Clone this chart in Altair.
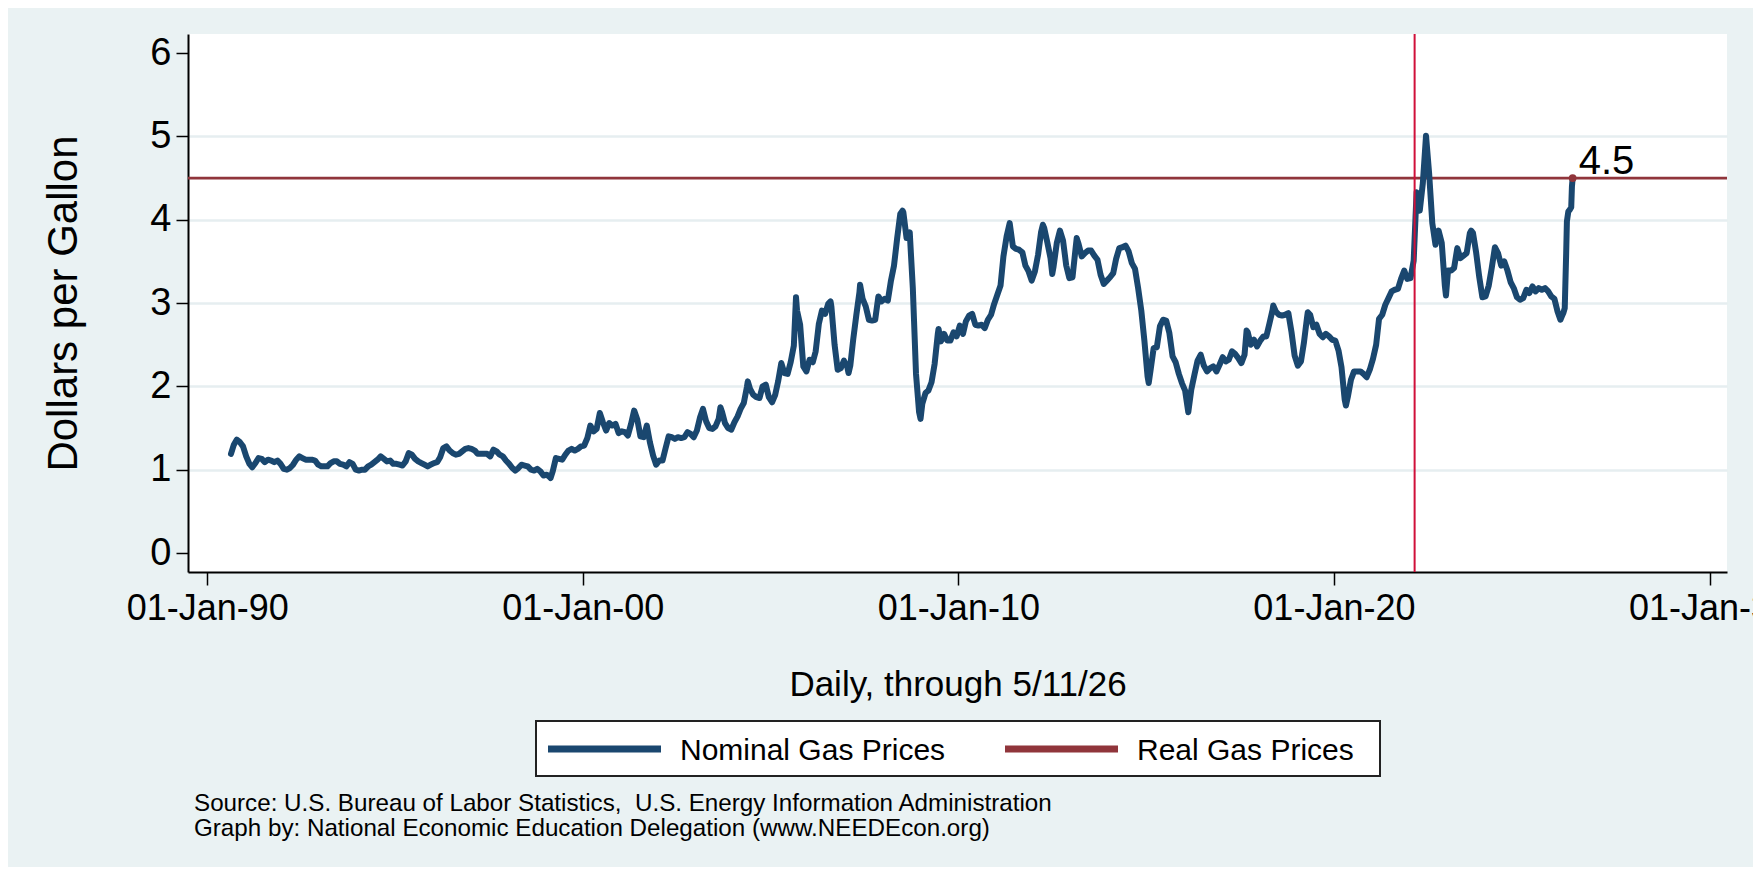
import altair as alt
import pandas as pd

FONT = "Liberation Sans"
NAVY = "#1A476F"
MAROON = "#90353B"
CRIMSON = "#D0103A"
BG = "#EAF2F3"

# ---- Nominal gas price, $/gallon ----
dates_1990 = ["1990-08-20", "1990-09-17", "1990-10-15", "1990-11-15", "1990-12-15"]
prices_1990 = [1.19, 1.30, 1.36, 1.33, 1.28]

# monthly values (mid-month), Jan..Dec
prices_1990s = [
    1.16, 1.07, 1.03, 1.08, 1.14, 1.13, 1.09, 1.12, 1.11, 1.09, 1.11, 1.07,  # 1991
    1.01, 1.00, 1.02, 1.06, 1.12, 1.16, 1.14, 1.12, 1.12, 1.12, 1.11, 1.06,  # 1992
    1.04, 1.04, 1.04, 1.08, 1.10, 1.10, 1.07, 1.06, 1.04, 1.09, 1.07, 1.00,  # 1993
    0.99, 1.00, 1.00, 1.04, 1.06, 1.09, 1.12, 1.16, 1.13, 1.10, 1.11, 1.07,  # 1994
    1.07, 1.06, 1.05, 1.10, 1.20, 1.18, 1.13, 1.10, 1.08, 1.06, 1.04, 1.06,  # 1995
    1.08, 1.09, 1.15, 1.26, 1.28, 1.23, 1.20, 1.18, 1.19, 1.22, 1.25, 1.26,  # 1996
    1.25, 1.23, 1.19, 1.19, 1.19, 1.19, 1.16, 1.24, 1.22, 1.18, 1.16, 1.11,  # 1997
    1.07, 1.02, 0.99, 1.02, 1.06, 1.05, 1.04, 1.00, 0.99, 1.01, 0.98, 0.93,  # 1998
    0.94, 0.91, 0.98, 1.14, 1.13, 1.12, 1.18, 1.23, 1.25, 1.23, 1.25, 1.28,  # 1999
]
prices_2000s = [
    1.29, 1.38, 1.53, 1.46, 1.49, 1.68, 1.57, 1.47, 1.56, 1.53, 1.55, 1.44,  # 2000
    1.46, 1.45, 1.41, 1.55, 1.71, 1.60, 1.40, 1.39, 1.53, 1.33, 1.17, 1.06,  # 2001
    1.11, 1.11, 1.25, 1.40, 1.39, 1.37, 1.39, 1.38, 1.39, 1.45, 1.43, 1.39,  # 2002
    1.47, 1.63, 1.73, 1.58, 1.50, 1.49, 1.52, 1.61, 1.70, 1.56, 1.50, 1.48,  # 2003
    1.57, 1.64, 1.73, 1.80, 1.99, 1.97, 1.90, 1.87, 1.86, 2.00, 2.02, 1.87,  # 2004
    1.81, 1.90, 2.06, 2.28, 2.16, 2.15, 2.29, 2.49, 2.91, 2.74, 2.24, 2.18,  # 2005
    2.32, 2.29, 2.42, 2.75, 2.91, 2.87, 2.99, 2.96, 2.50, 2.20, 2.22, 2.31,  # 2006
    2.24, 2.25, 2.56, 2.86, 3.13, 3.05, 2.96, 2.80, 2.79, 2.80, 3.08, 3.02,  # 2007
    3.05, 3.03, 3.26, 3.45, 3.77, 4.07, 4.09, 3.78, 3.85, 3.18, 2.15, 1.69,  # 2008
    1.79, 1.92, 1.95, 2.05, 2.27, 2.63, 2.54, 2.63, 2.55, 2.55, 2.65, 2.60,  # 2009
]
prices_2010s = [
    2.73, 2.63, 2.78, 2.85, 2.87, 2.74, 2.73, 2.74, 2.70, 2.80, 2.86, 2.99,  # 2010
    3.10, 3.21, 3.56, 3.80, 3.96, 3.68, 3.65, 3.64, 3.61, 3.45, 3.38, 3.27,  # 2011
    3.38, 3.58, 3.85, 3.90, 3.73, 3.54, 3.44, 3.72, 3.87, 3.75, 3.45, 3.30,  # 2012
    3.31, 3.67, 3.71, 3.56, 3.60, 3.63, 3.63, 3.57, 3.52, 3.34, 3.23, 3.27,  # 2013
    3.31, 3.36, 3.53, 3.66, 3.67, 3.69, 3.62, 3.48, 3.41, 3.18, 2.91, 2.55,  # 2014
    2.12, 2.21, 2.46, 2.47, 2.72, 2.80, 2.79, 2.64, 2.36, 2.29, 2.15, 2.04,  # 2015
    1.95, 1.69, 1.96, 2.14, 2.31, 2.38, 2.25, 2.18, 2.22, 2.24, 2.18, 2.26,  # 2016
    2.35, 2.30, 2.32, 2.42, 2.39, 2.34, 2.28, 2.38, 2.65, 2.50, 2.56, 2.48,  # 2017
    2.55, 2.60, 2.60, 2.76, 2.92, 2.90, 2.86, 2.85, 2.86, 2.88, 2.65, 2.37,  # 2018
    2.25, 2.30, 2.52, 2.83, 2.86, 2.71, 2.74, 2.63, 2.59, 2.63, 2.60, 2.56,  # 2019
]
prices_2020s = [
    2.55, 2.43, 2.23, 1.84, 1.87, 2.08, 2.18, 2.18, 2.18, 2.15, 2.11, 2.20,  # 2020
    2.33, 2.50, 2.81, 2.86, 2.98, 3.06, 3.14, 3.16, 3.17, 3.29, 3.39, 3.29,  # 2021
    3.30, 3.51, 4.33, 4.11, 4.44, 5.01, 4.56, 3.96, 3.70, 3.87, 3.72, 3.21,  # 2022
    3.39, 3.39, 3.42, 3.66, 3.54, 3.57, 3.60, 3.84, 3.84, 3.61, 3.31, 3.07,  # 2023
    3.08, 3.21, 3.42, 3.67, 3.60, 3.45, 3.50, 3.39, 3.25, 3.18, 3.07, 3.04,  # 2024
    3.06, 3.16, 3.12, 3.20, 3.14, 3.18, 3.16, 3.18, 3.14, 3.08, 3.05, 2.90,  # 2025
]

# weekly turning points between the monthly readings
turn_dates = ["1999-02-22", "2003-09-01", "2004-05-24", "2005-09-05", "2006-08-07",
              "2007-01-29", "2007-05-21", "2008-07-07", "2008-12-29", "2009-06-22",
              "2012-04-02", "2012-07-02", "2013-02-25", "2015-01-26", "2017-09-04",
              "2018-05-21", "2019-04-22", "2020-04-27", "2022-12-26", "2023-08-28"]
turn_prices = [0.90, 1.75, 2.06, 3.07, 3.02,
               2.16, 3.22, 4.11, 1.61, 2.69,
               3.94, 3.35, 3.78, 2.04, 2.67,
               2.97, 2.89, 1.77, 3.09, 3.87]

dates_2026 = ["2026-01-12", "2026-01-26", "2026-02-09", "2026-02-23", "2026-03-09",
              "2026-03-16", "2026-03-30", "2026-04-13", "2026-04-27", "2026-05-04", "2026-05-11"]
prices_2026 = [2.80, 2.84, 2.88, 2.94, 3.60, 3.98, 4.10, 4.12, 4.15, 4.40, 4.50]

real_level = 4.5
event_date = "2022-02-24"
legend_labels = ["Nominal Gas Prices", "Real Gas Prices"]
tick_years = [1990, 2000, 2010, 2020, 2030]
y_ticks = [0, 1, 2, 3, 4, 5, 6]
source_lines = [
    "Source: U.S. Bureau of Labor Statistics,\u00a0 U.S. Energy Information Administration",
    "Graph by: National Economic Education Delegation (www.NEEDEcon.org)",
]

# ---- assemble ----
monthly = prices_1990s + prices_2000s + prices_2010s + prices_2020s
month_dates = pd.date_range("1991-01-01", "2025-12-01", freq="MS") + pd.Timedelta(days=14)
df = pd.DataFrame({
    "date": list(pd.to_datetime(dates_1990)) + list(month_dates)
            + list(pd.to_datetime(turn_dates)) + list(pd.to_datetime(dates_2026)),
    "price": prices_1990 + monthly + turn_prices + prices_2026,
})
df = df.sort_values("date").reset_index(drop=True)
df["series"] = legend_labels[0]

real_df = pd.DataFrame({"price": [real_level], "series": [legend_labels[1]]})
event_df = pd.DataFrame({"date": [pd.Timestamp(event_date)]})
last_df = df.tail(1)
legend_df = pd.DataFrame({"series": legend_labels})

W, H = 1539, 538

x_scale = alt.Scale(domain=[alt.DateTime(year=1989, month=6, date=28),
                            alt.DateTime(year=2030, month=6, date=20)])
y_scale = alt.Scale(domain=[-0.228, 6.23], nice=False, zero=False)
color_scale = alt.Scale(domain=legend_labels, range=[NAVY, MAROON])

x_axis = alt.Axis(
    values=[alt.DateTime(year=y, month=1, date=1) for y in tick_years],
    format="%d-%b-%y", title="Daily, through 5/11/26",
    labelFontSize=36, labelBaseline="alphabetic", labelPadding=34, labelFlush=False,
    labelOverlap=False, tickSize=13, grid=False,
    titleFontSize=35, titleX=W / 2, titleY=123, titleBaseline="alphabetic",
    titleAlign="center",
)
y_axis = alt.Axis(
    values=y_ticks, format="d", title="Dollars per Gallon",
    labelFontSize=38, labelPadding=5, tickSize=12,
    grid=True, gridColor="#E6EEF0", gridWidth=2.5,
    gridOpacity={"condition": {"test": "datum.value == 0 || datum.value == 6", "value": 0}, "value": 1},
    titleFontSize=42, titleAngle=270, titleX=-125, titleY=H / 2,
    titleAlign="center", titleBaseline="middle",
)

color_enc = alt.Color("series:N", scale=color_scale, legend=None)

real_rule = alt.Chart(real_df).mark_rule(strokeWidth=2.6).encode(
    y=alt.Y("price:Q", scale=y_scale, axis=y_axis), color=color_enc,
)
line = alt.Chart(df).mark_line(strokeWidth=6, strokeJoin="round", strokeCap="round").encode(
    x=alt.X("date:T", scale=x_scale, axis=x_axis),
    y=alt.Y("price:Q", scale=y_scale, axis=y_axis),
    color=color_enc,
)
vline = alt.Chart(event_df).mark_rule(color=CRIMSON, strokeWidth=2).encode(
    x=alt.X("date:T", scale=x_scale, axis=x_axis),
)
dot = alt.Chart(last_df).mark_circle(size=60, color=MAROON, opacity=1).encode(
    x=alt.X("date:T", scale=x_scale), y=alt.Y("price:Q", scale=y_scale),
)
label = alt.Chart(last_df).mark_text(
    align="left", baseline="alphabetic", dx=6, dy=-4, fontSize=40, font=FONT, color="black"
).encode(
    x=alt.X("date:T", scale=x_scale), y=alt.Y("price:Q", scale=y_scale),
    text=alt.Text("price:Q", format=".1f"),
)

# ---- legend box (drawn below the plot like the original) ----
legend_box = alt.Chart(pd.DataFrame({"k": [0]})).mark_rect(
    fill="white", stroke="#222222", strokeWidth=2
).encode(x=alt.value(348), x2=alt.value(1192), y=alt.value(687), y2=alt.value(742))

legend_layers = [legend_box]
sym_x = [360, 817]
for i, name in enumerate(legend_labels):
    one = legend_df[legend_df["series"] == name]
    legend_layers.append(
        alt.Chart(one).mark_rule(strokeWidth=7).encode(
            x=alt.value(sym_x[i]), x2=alt.value(sym_x[i] + 113), y=alt.value(715),
            color=color_enc,
        )
    )
    legend_layers.append(
        alt.Chart(one).mark_text(
            align="left", baseline="alphabetic", fontSize=30, font=FONT, color="black"
        ).encode(x=alt.value(sym_x[i] + 132), y=alt.value(726), text="series:N")
    )

src_layers = []
for i, s in enumerate(source_lines):
    src_layers.append(
        alt.Chart(pd.DataFrame({"t": [s]})).mark_text(
            align="left", baseline="alphabetic", fontSize=24.2, font=FONT, color="black"
        ).encode(x=alt.value(6), y=alt.value(777 + 25 * i), text="t:N")
    )

chart = alt.layer(real_rule, line, vline, dot, label, *legend_layers, *src_layers).properties(
    width=W, height=H,
    autosize=alt.AutoSizeParams(type="none"),
    padding={"left": 180, "top": 26, "right": 26, "bottom": 295},
    background=BG,
).configure_view(
    fill="white", strokeWidth=0,
).configure_axis(
    labelFont=FONT, titleFont=FONT, labelColor="black", titleColor="black",
    titleFontWeight="normal", domainColor="black", domainWidth=2,
    tickColor="black", tickWidth=1.5,
)

chart.save("out.html", embed_options={"renderer": "svg", "actions": False})
